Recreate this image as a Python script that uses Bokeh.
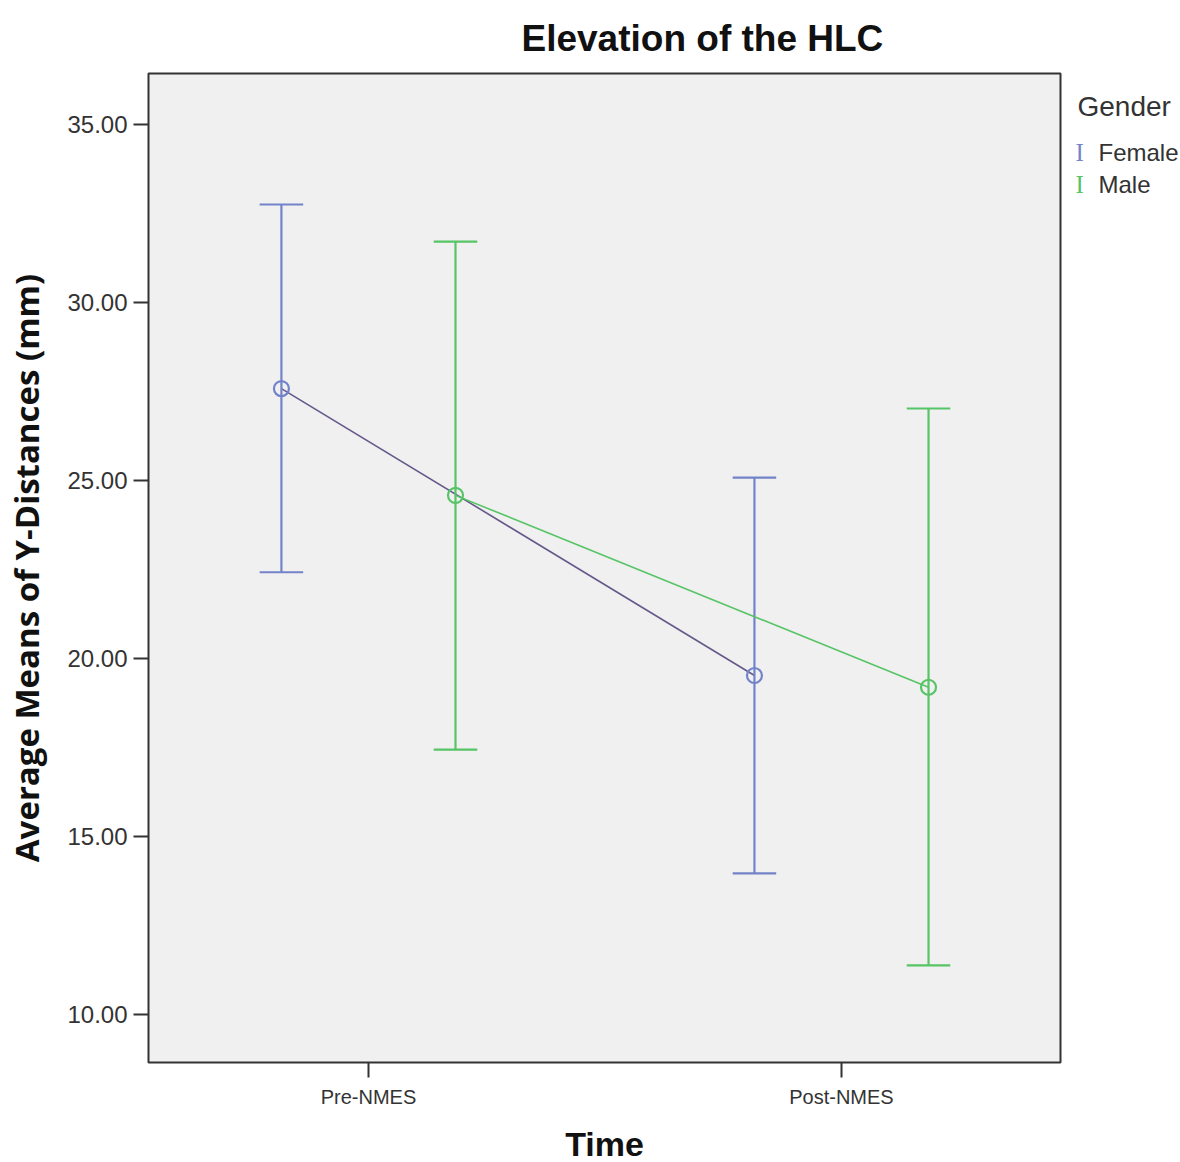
from bokeh.plotting import figure
from bokeh.models import Range1d, FixedTicker, Title, ColumnDataSource
from bokeh.core.properties import value
from bokeh.layouts import row
from bokeh.transform import dodge
from bokeh.embed import file_html
from bokeh.resources import INLINE

# ---- data ----
categories = ["Pre-NMES", "Post-NMES"]
groups = ["Female", "Male"]
female_mean = [27.58, 19.52]
female_lower = [22.42, 13.96]
female_upper = [32.75, 25.08]
male_mean = [24.58, 19.19]
male_lower = [17.44, 11.38]
male_upper = [31.71, 27.02]
y_ticks = [10, 15, 20, 25, 30, 35]

# ---- style ----
female_color = "#7383c9"
female_line = "#66598a"
male_color = "#57c466"
bg = "#f0f0f0"
OFFSET = 0.184
CAP = 0.046
H = 1154
LW = 118

p = figure(frame_width=912, frame_height=989,
           min_border_left=148, min_border_right=2,
           min_border_top=73, min_border_bottom=92,
           x_range=Range1d(-0.465, 1.463), y_range=Range1d(8.65, 36.43),
           output_backend="svg", toolbar_location=None, title=None)
p.background_fill_color = bg
p.border_fill_color = "white"
p.outline_line_color = "#333333"
p.outline_line_width = 2
p.grid.visible = False

idx = list(range(len(categories)))

def draw(mean, lower, upper, bar_color, line_color, off):
    src = ColumnDataSource(dict(x=idx, mean=mean, lower=lower, upper=upper))
    xs = dodge("x", off)
    p.line(x=xs, y="mean", source=src, line_color=line_color, line_width=1.6)
    p.segment(x0=xs, y0="lower", x1=xs, y1="upper", source=src,
              line_color=bar_color, line_width=2.2)
    p.segment(x0=dodge("x", off - CAP), y0="upper", x1=dodge("x", off + CAP), y1="upper",
              source=src, line_color=bar_color, line_width=2.2)
    p.segment(x0=dodge("x", off - CAP), y0="lower", x1=dodge("x", off + CAP), y1="lower",
              source=src, line_color=bar_color, line_width=2.2)
    p.scatter(x=xs, y="mean", source=src, marker="circle", size=15,
              fill_color=None, line_color=bar_color, line_width=2.2)

draw(female_mean, female_lower, female_upper, female_color, female_line, -OFFSET)
draw(male_mean, male_lower, male_upper, male_color, male_color, OFFSET)

# axes
p.xaxis.ticker = FixedTicker(ticks=idx)
p.xaxis.major_label_overrides = {i: c for i, c in zip(idx, categories)}
p.yaxis.ticker = FixedTicker(ticks=y_ticks)
p.yaxis.major_label_overrides = {t: f"{t:.2f}" for t in y_ticks}
for ax in (p.xaxis[0], p.yaxis[0]):
    ax.axis_line_color = None
    ax.minor_tick_line_color = None
    ax.major_tick_line_color = "#333333"
    ax.major_tick_line_width = 2
    ax.major_tick_in = 0
    ax.major_tick_out = 15
    ax.major_label_text_font = "Liberation Sans"
    ax.major_label_text_color = "#333333"
    ax.axis_label_text_font = "Liberation Sans"
    ax.axis_label_text_font_style = "bold"
    ax.axis_label_text_color = "#111111"
p.xaxis.major_label_text_font_size = "20px"
p.yaxis.major_label_text_font_size = "24px"
p.xaxis.major_label_standoff = 8
p.yaxis.major_label_standoff = 6
p.xaxis.axis_label = "Time"
p.xaxis.axis_label_text_font_size = "34px"
p.xaxis.axis_label_standoff = 14
p.yaxis.axis_label = "Average Means of Y-Distances (mm)"
p.yaxis.axis_label_text_font = "Open Sans"
p.yaxis.axis_label_text_font_size = "33px"
p.yaxis.axis_label_standoff = 15

p.add_layout(Title(text="Elevation of the HLC", align="left", offset=373, standoff=29,
                   text_font="Liberation Sans", text_font_size="37px",
                   text_font_style="bold", text_color="#111111"), "above")

# legend panel on the right (pixel-coordinate frame, top aligned with plot frame)
lg = figure(frame_width=LW, frame_height=H, x_range=Range1d(0, LW), y_range=Range1d(H, 0),
            min_border=0, min_border_left=0, min_border_right=0,
            min_border_top=0, min_border_bottom=0,
            x_axis_location=None, y_axis_location=None,
            output_backend="svg", toolbar_location=None, title=None)
lg.outline_line_color = None
lg.grid.visible = False
lg.text(x=[15], y=[33], text=["Gender"], text_font=value("Liberation Sans"),
        text_font_size=value("28px"), text_color="#333333", text_baseline="middle")
leg_y = [79, 111]
lg.text(x=[13, 13], y=leg_y, text=["I", "I"], text_font=value("Liberation Serif"),
        text_font_size=value("25px"), text_color=[female_color, male_color],
        text_baseline="middle")
lg.text(x=[36, 36], y=leg_y, text=groups, text_font=value("Liberation Sans"),
        text_font_size=value("24px"), text_color="#333333", text_baseline="middle")

open("out.html", "w").write(file_html(row(p, lg), INLINE))
